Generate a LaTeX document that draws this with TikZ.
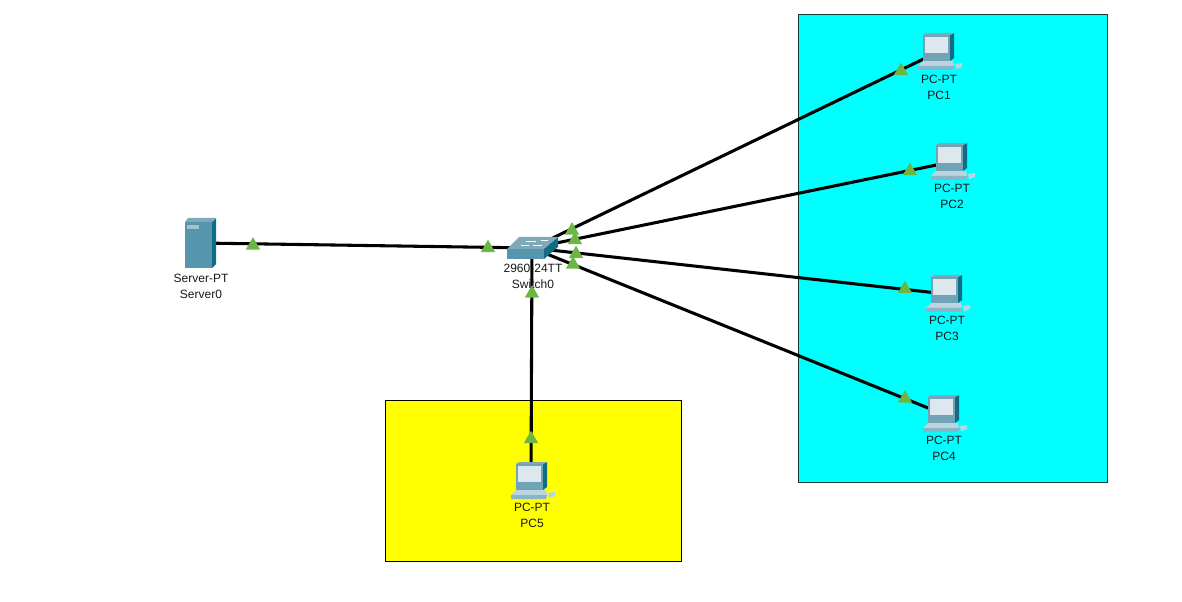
\documentclass[tikz,border=0pt]{standalone}
\usepackage{fontspec}
\setmainfont{Liberation Sans}
\usetikzlibrary{shapes.geometric}
\definecolor{tealside}{HTML}{0F6C85}
\definecolor{tealface}{HTML}{5596AE}
\definecolor{tealtop}{HTML}{7FA8B8}
\definecolor{screenc}{HTML}{DCE8EE}
\definecolor{lightkey}{HTML}{B9D6E0}
\definecolor{monframe}{HTML}{6FA3B5}
\definecolor{linkgreen}{HTML}{6CB644}
\definecolor{zoneborder}{RGB}{20,60,60}
\definecolor{zonecyan}{RGB}{0,255,255}
\definecolor{zoneyellow}{RGB}{255,255,0}
\tikzset{
  x=0.75pt,y=-0.75pt,
  device/.style={inner sep=0pt,minimum size=1pt},
  link/.style={draw=black,line width=2.3pt},
  lamp/.style={regular polygon,regular polygon sides=3,fill=linkgreen,inner sep=0pt,minimum size=12.5pt},
  lbl/.style={font=\fontsize{9pt}{12pt}\selectfont,align=center,inner sep=0pt,text=black!90},
  pcicon/.pic={
    % keyboard
    \fill[lightkey] (-15,9) -- (15,9) -- (16,14) -- (-20,14) -- cycle;
    \fill[tealface!70!white] (-20,14) -- (16,14) -- (15,18) -- (-20,18) -- cycle;
    % mouse
    \fill[lightkey] (17,12) -- (24,11) -- (24,15) -- (18,17) -- cycle;
    % monitor
    \fill[tealside] (12,-17) -- (16,-19) -- (16,6) -- (12,9) -- cycle;
    \fill[monframe] (-15,-17) rectangle (12,9);
    \fill[tealtop] (-15,-17) -- (-12,-19) -- (16,-19) -- (12,-17) -- cycle;
    \fill[screenc] (-13,-15) rectangle (10,1);
  },
  servericon/.pic={
    \fill[tealface] (-15,-21) rectangle (12,25);
    \fill[tealside] (12,-21) -- (16,-25) -- (16,21) -- (12,25) -- cycle;
    \fill[tealtop] (-15,-21) -- (-12,-25) -- (16,-25) -- (12,-21) -- cycle;
    \fill[tealtop!70!white] (-13,-18) rectangle (-1,-14);
  },
  switchicon/.pic={
    \fill[tealface] (-25,1) rectangle (12,11);
    \fill[tealside] (12,1) -- (26,-11) -- (26,-1) -- (12,11) -- cycle;
    \fill[tealtop] (-25,1) -- (-13,-11) -- (26,-11) -- (12,1) -- cycle;
    \draw[white,line width=0.7pt] (-6,-7) -- (4,-7) (9,-8) -- (16,-8) (-11,-3) -- (-3,-3) (1,-3) -- (10,-3);
  }
}
\begin{document}
\begin{tikzpicture}
\useasboundingbox (0,0) rectangle (1182,602);
\fill[white] (0,0) rectangle (1182,602);
% zones
\draw[fill=zonecyan,draw=zoneborder,line width=0.75pt] (798,15) rectangle (1107,482);
\draw[fill=zoneyellow,draw=black,line width=0.6pt] (385.5,400.5) rectangle (681,561);
% device anchors
\node[device] (srv) at (200,243) {};
\node[device] (sw) at (532,248) {};
\node[device] (pc1) at (938,52) {};
\node[device] (pc2) at (951,162) {};
\node[device] (pc3) at (946,294) {};
\node[device] (pc4) at (943,414) {};
\node[device] (pc5) at (531,481) {};
% links
\draw[link] (srv.center) -- (sw.center);
\draw[link] (sw.center) -- (pc1.center);
\draw[link] (sw.center) -- (pc2.center);
\draw[link] (sw.center) -- (pc3.center);
\draw[link] (sw.center) -- (pc4.center);
\draw[link] (sw.center) -- (pc5.center);
% icons
\pic at (srv) {servericon};
\pic at (sw) {switchicon};
\pic at (pc1) {pcicon};
\pic at (pc2) {pcicon};
\pic at (pc3) {pcicon};
\pic at (pc4) {pcicon};
\pic at (pc5) {pcicon};
% labels
\node[lbl] (lsrv) at (201,286) {Server-PT\\Server0};
\node[lbl] (lsw) at (533,276) {2960-24TT\\Switch0};
\node[lbl] (lpc1) at (939,87) {PC-PT\\PC1};
\node[lbl] (lpc2) at (952,196) {PC-PT\\PC2};
\node[lbl] (lpc3) at (947,328) {PC-PT\\PC3};
\node[lbl] (lpc4) at (944,448) {PC-PT\\PC4};
\node[lbl] (lpc5) at (532,515) {PC-PT\\PC5};
% link lights
\node[lamp] (a1) at (253,245.5) {};
\node[lamp] (a2) at (488,248) {};
\node[lamp] (a3) at (572,230.5) {};
\node[lamp] (a4) at (575,240) {};
\node[lamp] (a5) at (576,254) {};
\node[lamp] (a6) at (573,264.5) {};
\node[lamp] (a7) at (532,293.5) {};
\node[lamp] (a8) at (531,439) {};
\node[lamp] (a9) at (901,71) {};
\node[lamp] (a10) at (910,171) {};
\node[lamp] (a11) at (905,289) {};
\node[lamp] (a12) at (905,398.5) {};
\end{tikzpicture}
\end{document}
